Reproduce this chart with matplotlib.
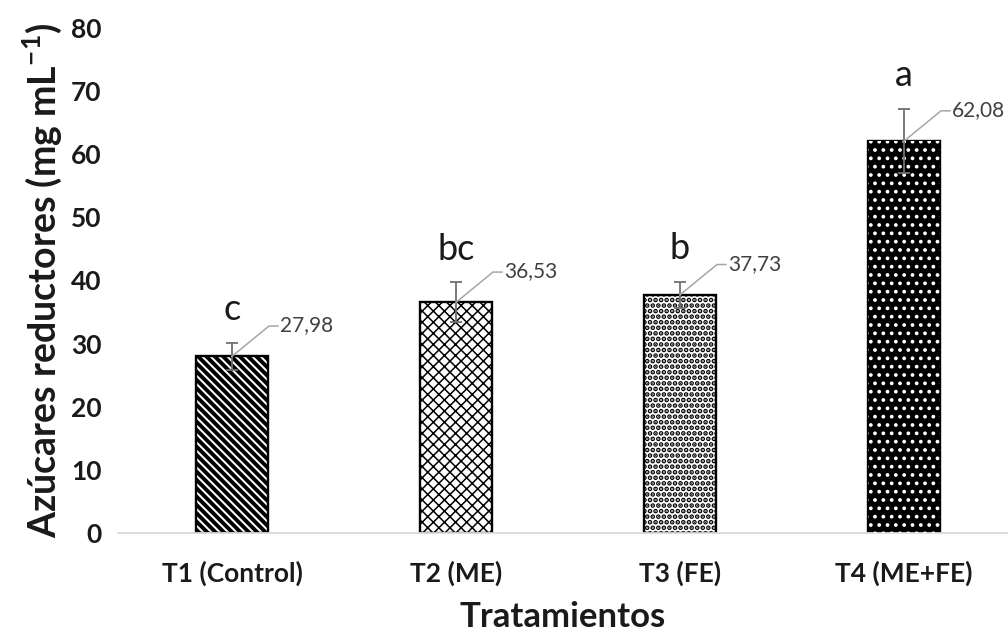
import matplotlib.pyplot as plt
import numpy as np

plt.rcParams['font.family'] = ['Lato', 'DejaVu Sans']
plt.rcParams['mathtext.fontset'] = 'custom'
plt.rcParams['mathtext.rm'] = 'Lato'
plt.rcParams['mathtext.bf'] = 'Lato:bold'

# Reducing sugars per treatment
tratamientos = ['T1 (Control)', 'T2 (ME)', 'T3 (FE)', 'T4 (ME+FE)']
medias = [27.98, 36.53, 37.73, 62.08]
errores = [2.1, 3.15, 2.1, 5.1]
letras = ['c', 'bc', 'b', 'a']
etiquetas = ['27,98', '36,53', '37,73', '62,08']

fig = plt.figure(figsize=(10.08, 6.36), dpi=100)
ax = fig.add_axes([0.117, 0.162, 0.883, 0.794])

x = np.arange(len(tratamientos))
w = 0.32

# (hatch, hatch line width) for the three white bars
estilos = [('\\\\\\\\', 2.8), ('xxx', 1.1), ('...', 2.4)]
for i, (h, lw) in enumerate(estilos):
    with plt.rc_context({'hatch.linewidth': lw}):
        ax.bar(x[i], medias[i], w, color='white', edgecolor='black',
               hatch=h, linewidth=1.7, zorder=2)

# last bar: black fill with white dots
ax.bar(x[3], medias[3], w, color='black', edgecolor='black', linewidth=1.7, zorder=2)
with plt.rc_context({'hatch.linewidth': 1.5}):
    ax.bar(x[3], medias[3], w, color='none', edgecolor='white', hatch='..',
           linewidth=0, zorder=3)

ax.errorbar(x, medias, yerr=errores, fmt='none', ecolor='#707070',
            elinewidth=1.3, capsize=4.5, capthick=1.3, zorder=4)

# leader lines and value labels
for xi, m, lab in zip(x, medias, etiquetas):
    xs = [xi, xi + 0.165, xi + 0.205]
    ys = [m, m + 4.8, m + 4.8]
    ax.plot(xs, ys, color='#a6a6a6', lw=1.1, zorder=5)
    ax.text(xi + 0.215, m + 4.9, lab, ha='left', va='center', fontsize=15,
            color='#404040')

for xi, m, e, l in zip(x, medias, errores, letras):
    ax.text(xi, m + e + 3.6, l, ha='center', va='baseline', fontsize=26,
            color='#1a1a1a')

ax.set_ylim(0, 80)
ax.set_xlim(-0.509, 3.464)
ax.set_yticks(np.arange(0, 81, 10))
ax.set_xticks(x)
ax.set_xticklabels(tratamientos)
for t in ax.get_yticklabels() + ax.get_xticklabels():
    t.set_fontsize(19)
    t.set_fontweight('bold')
    t.set_color('#1a1a1a')
ax.tick_params(axis='y', length=0, pad=12)
ax.tick_params(axis='x', length=0, pad=20)

for s in ['top', 'right', 'left']:
    ax.spines[s].set_visible(False)
ax.spines['bottom'].set_color('#d9d9d9')
ax.spines['bottom'].set_linewidth(1.3)

ax.set_ylabel('Azúcares reductores (mg mL$^{\\mathbf{-1}}$)', fontsize=27,
              fontweight='bold', labelpad=5, color='#1a1a1a')
ax.set_xlabel('Tratamientos', fontsize=25, fontweight='bold', labelpad=11,
              color='#1a1a1a')

fig.savefig('out.png', dpi=100)
